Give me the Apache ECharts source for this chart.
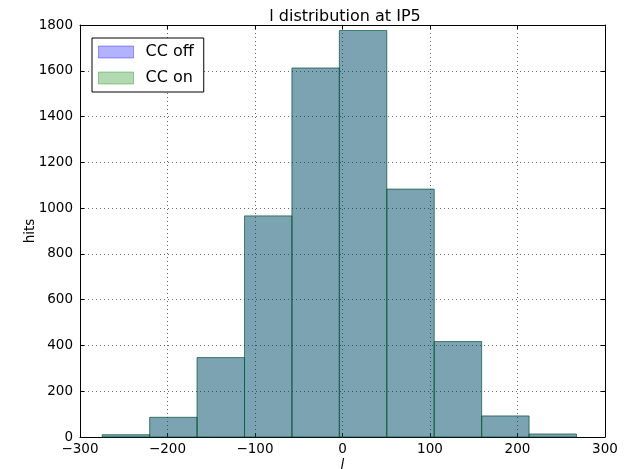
<!DOCTYPE html>
<html>
<head>
<meta charset="utf-8">
<script src="https://cdn.jsdelivr.net/npm/echarts@6/dist/echarts.min.js"></script>
<style>
  html, body { margin: 0; padding: 0; background: #fff; }
  #chart { width: 639px; height: 469px; }
</style>
</head>
<body>
<div id="chart"></div>
<script>
// Histogram bin edges (l) and hit counts per bin
const binEdges = [-274.6, -220.4, -166.2, -112.0, -57.8, -3.6, 50.6, 104.8, 159.0, 213.2, 267.4];
const hitsCCoff = [10, 86, 347, 966, 1612, 1776, 1083, 417, 92, 13];
const hitsCCon = [10, 86, 347, 966, 1612, 1776, 1083, 417, 92, 13];
const seriesNames = ['CC off', 'CC on'];
const xTicks = [-300, 300, 100];   // min, max, step
const yTicks = [0, 1800, 200];

const FONT = 'DejaVu Sans';

function binRows(counts) {
  return counts.map((c, i) => [binEdges[i], binEdges[i + 1], c]);
}

function histRenderer(fill, stroke) {
  return function (params, api) {
    const p0 = api.coord([api.value(0), api.value(2)]);
    const p1 = api.coord([api.value(1), 0]);
    return {
      type: 'rect',
      shape: { x: p0[0], y: p0[1], width: p1[0] - p0[0], height: p1[1] - p0[1] },
      style: { fill: fill, stroke: stroke, lineWidth: 1 }
    };
  };
}

const grid = { left: 80, right: 34, top: 25, bottom: 32, containLabel: false, outerBoundsMode: 'none' };
const tickStyle = { show: true, inside: true, length: 4, lineStyle: { color: '#000', width: 1 } };
const axisLineStyle = { show: true, onZero: false, lineStyle: { color: '#000', width: 1 } };
const gridLineStyle = { show: true, lineStyle: { color: '#000', width: 1, type: [1, 3], opacity: 0.6 } };
const labelStyle = { color: '#000', fontFamily: FONT, fontSize: 13.5 };
const plainNumber = v => String(v).replace('-', '\u2212');

const chart = echarts.init(document.getElementById('chart'), null, { renderer: 'canvas' });
chart.setOption({
  backgroundColor: '#fff',
  animation: false,
  title: {
    text: 'l distribution at IP5',
    left: 340, textAlign: 'center', top: 4,
    textStyle: { color: '#000', fontFamily: FONT, fontSize: 16, fontWeight: 'normal' }
  },
  legend: {
    orient: 'vertical',
    left: 92, top: 38,
    padding: [6, 10, 6, 6],
    itemWidth: 35, itemHeight: 12, itemGap: 10,
    icon: 'rect',
    backgroundColor: '#fff',
    borderColor: '#000', borderWidth: 1,
    textStyle: { color: '#000', fontFamily: FONT, fontSize: 16, lineHeight: 14, padding: [0, 0, 0, 7] },
    data: [
      { name: seriesNames[0], itemStyle: { color: 'rgba(0,0,255,0.3)', borderColor: 'rgba(0,0,255,0.35)', borderWidth: 1 } },
      { name: seriesNames[1], itemStyle: { color: 'rgba(0,128,0,0.3)', borderColor: 'rgba(0,128,0,0.35)', borderWidth: 1 } }
    ]
  },
  grid: grid,
  xAxis: [
    {
      type: 'value', min: xTicks[0], max: xTicks[1], interval: xTicks[2],
      position: 'bottom',
      name: 'l', nameLocation: 'middle', nameGap: 21, nameMoveOverlap: false,
      nameTextStyle: { color: '#000', fontFamily: FONT, fontSize: 13.5, fontStyle: 'italic' },
      axisLine: axisLineStyle, axisTick: tickStyle,
      axisLabel: Object.assign({ margin: 5, formatter: plainNumber }, labelStyle),
      splitLine: gridLineStyle
    },
    {
      type: 'value', min: xTicks[0], max: xTicks[1], interval: xTicks[2],
      position: 'top',
      axisLine: axisLineStyle, axisTick: tickStyle,
      axisLabel: { show: false }, splitLine: { show: false }
    }
  ],
  yAxis: [
    {
      type: 'value', min: yTicks[0], max: yTicks[1], interval: yTicks[2],
      position: 'left',
      name: 'hits', nameLocation: 'middle', nameGap: 43, nameMoveOverlap: false,
      nameTextStyle: { color: '#000', fontFamily: FONT, fontSize: 13.5 },
      axisLine: axisLineStyle, axisTick: tickStyle,
      axisLabel: Object.assign({ margin: 7, formatter: plainNumber }, labelStyle),
      splitLine: gridLineStyle
    },
    {
      type: 'value', min: yTicks[0], max: yTicks[1], interval: yTicks[2],
      position: 'right',
      axisLine: axisLineStyle, axisTick: tickStyle,
      axisLabel: { show: false }, splitLine: { show: false }
    }
  ],
  series: [
    {
      name: seriesNames[0], type: 'custom',
      xAxisIndex: 0, yAxisIndex: 0,
      itemStyle: { color: 'rgba(0,0,255,0.3)' },
      encode: { x: [0, 1], y: 2 },
      renderItem: histRenderer('rgba(0,0,255,0.3)', 'rgba(0,0,0,0.2)'),
      data: binRows(hitsCCoff),
      z: 2
    },
    {
      name: seriesNames[1], type: 'custom',
      xAxisIndex: 0, yAxisIndex: 0,
      itemStyle: { color: 'rgba(0,128,0,0.3)' },
      encode: { x: [0, 1], y: 2 },
      renderItem: histRenderer('rgba(0,128,0,0.3)', 'rgba(0,90,60,0.55)'),
      data: binRows(hitsCCon),
      z: 3
    }
  ]
});
</script>
</body>
</html>
